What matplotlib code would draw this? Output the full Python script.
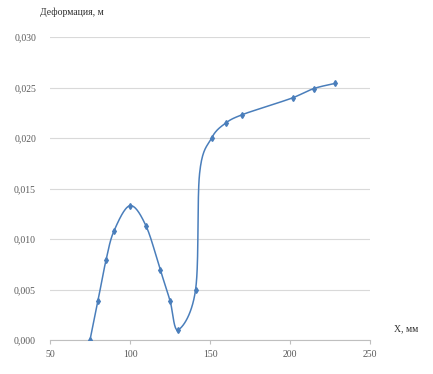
import numpy as np
import matplotlib
matplotlib.use("Agg")
import matplotlib.pyplot as plt

x_vals = [75, 80, 85, 90, 100, 110, 119, 125, 130, 141, 143.5, 151, 160, 170, 187, 202, 215, 228]
y_vals = [0.0, 0.0039, 0.0079, 0.0108, 0.0133, 0.0113, 0.0069, 0.0039, 0.0010,
          0.0050, 0.0165, 0.0200, 0.0215, 0.0223, 0.0232, 0.0240, 0.0249, 0.0254]
marker_x = [75, 80, 85, 90, 100, 110, 119, 125, 130, 141, 151, 160, 170, 202, 215, 228]
marker_y = [0.0, 0.0039, 0.0079, 0.0108, 0.0133, 0.0113, 0.0069, 0.0039, 0.0010,
            0.0050, 0.0200, 0.0215, 0.0223, 0.0240, 0.0249, 0.0254]
x_ticks = [50, 100, 150, 200, 250]
y_ticks = [0.000, 0.005, 0.010, 0.015, 0.020, 0.025, 0.030]
y_tick_labels = ["0,000", "0,005", "0,010", "0,015", "0,020", "0,025", "0,030"]
x_label = "X, мм"
y_label = "Деформация, м"

plt.rcParams['font.family'] = ['Liberation Serif', 'DejaVu Serif']

fig = plt.figure(figsize=(4.33, 3.74), dpi=100)
ax = fig.add_axes([50/433, 34/374, 320/433, 303/374])
ax.set_xlim(50, 250)
ax.set_ylim(0, 0.030)

# Excel-like smoothed curve (Bezier with 1/6 tangents) computed in display space
fig.canvas.draw()
pts = ax.transData.transform(np.column_stack([x_vals, y_vals]))
n = len(pts)
curve = []
for i in range(n - 1):
    p0 = pts[i - 1] if i > 0 else pts[i]
    p1 = pts[i]
    p2 = pts[i + 1]
    p3 = pts[i + 2] if i + 2 < n else pts[i + 1]
    c1 = p1 + (p2 - p0) / 6.0
    c2 = p2 - (p3 - p1) / 6.0
    t = np.linspace(0, 1, 30)[:, None]
    seg = ((1 - t) ** 3) * p1 + 3 * ((1 - t) ** 2) * t * c1 + 3 * (1 - t) * t ** 2 * c2 + t ** 3 * p2
    curve.append(seg if i == 0 else seg[1:])
curve = np.vstack(curve)
curve_data = ax.transData.inverted().transform(curve)

color = '#4a7ebb'
ax.plot(curve_data[:, 0], curve_data[:, 1], color=color, lw=1.1, zorder=3)
ax.plot(marker_x, marker_y, linestyle='none', marker='d', markersize=3,
        color=color, zorder=4)

ax.set_xticks(x_ticks)
ax.set_xticklabels([str(v) for v in x_ticks])
ax.set_yticks(y_ticks)
ax.set_yticklabels(y_tick_labels)
ax.grid(axis='y', color='#d9d9d9', lw=0.8)
ax.set_axisbelow(True)
for s in ['top', 'right', 'left']:
    ax.spines[s].set_visible(False)
ax.spines['bottom'].set_color('#bfbfbf')
ax.tick_params(axis='y', length=0, pad=10, labelsize=7, colors='#595959')
ax.tick_params(axis='x', length=3, color='#bfbfbf', pad=4, labelsize=7, colors='#595959')

fig.text(72/433, 1 - 12/374, y_label, ha='center', va='center', fontsize=7, color='#303030')
fig.text(406/433, 1 - 329/374, x_label, ha='center', va='center', fontsize=7, color='#303030')

fig.savefig("out.png", dpi=100, facecolor='white')
